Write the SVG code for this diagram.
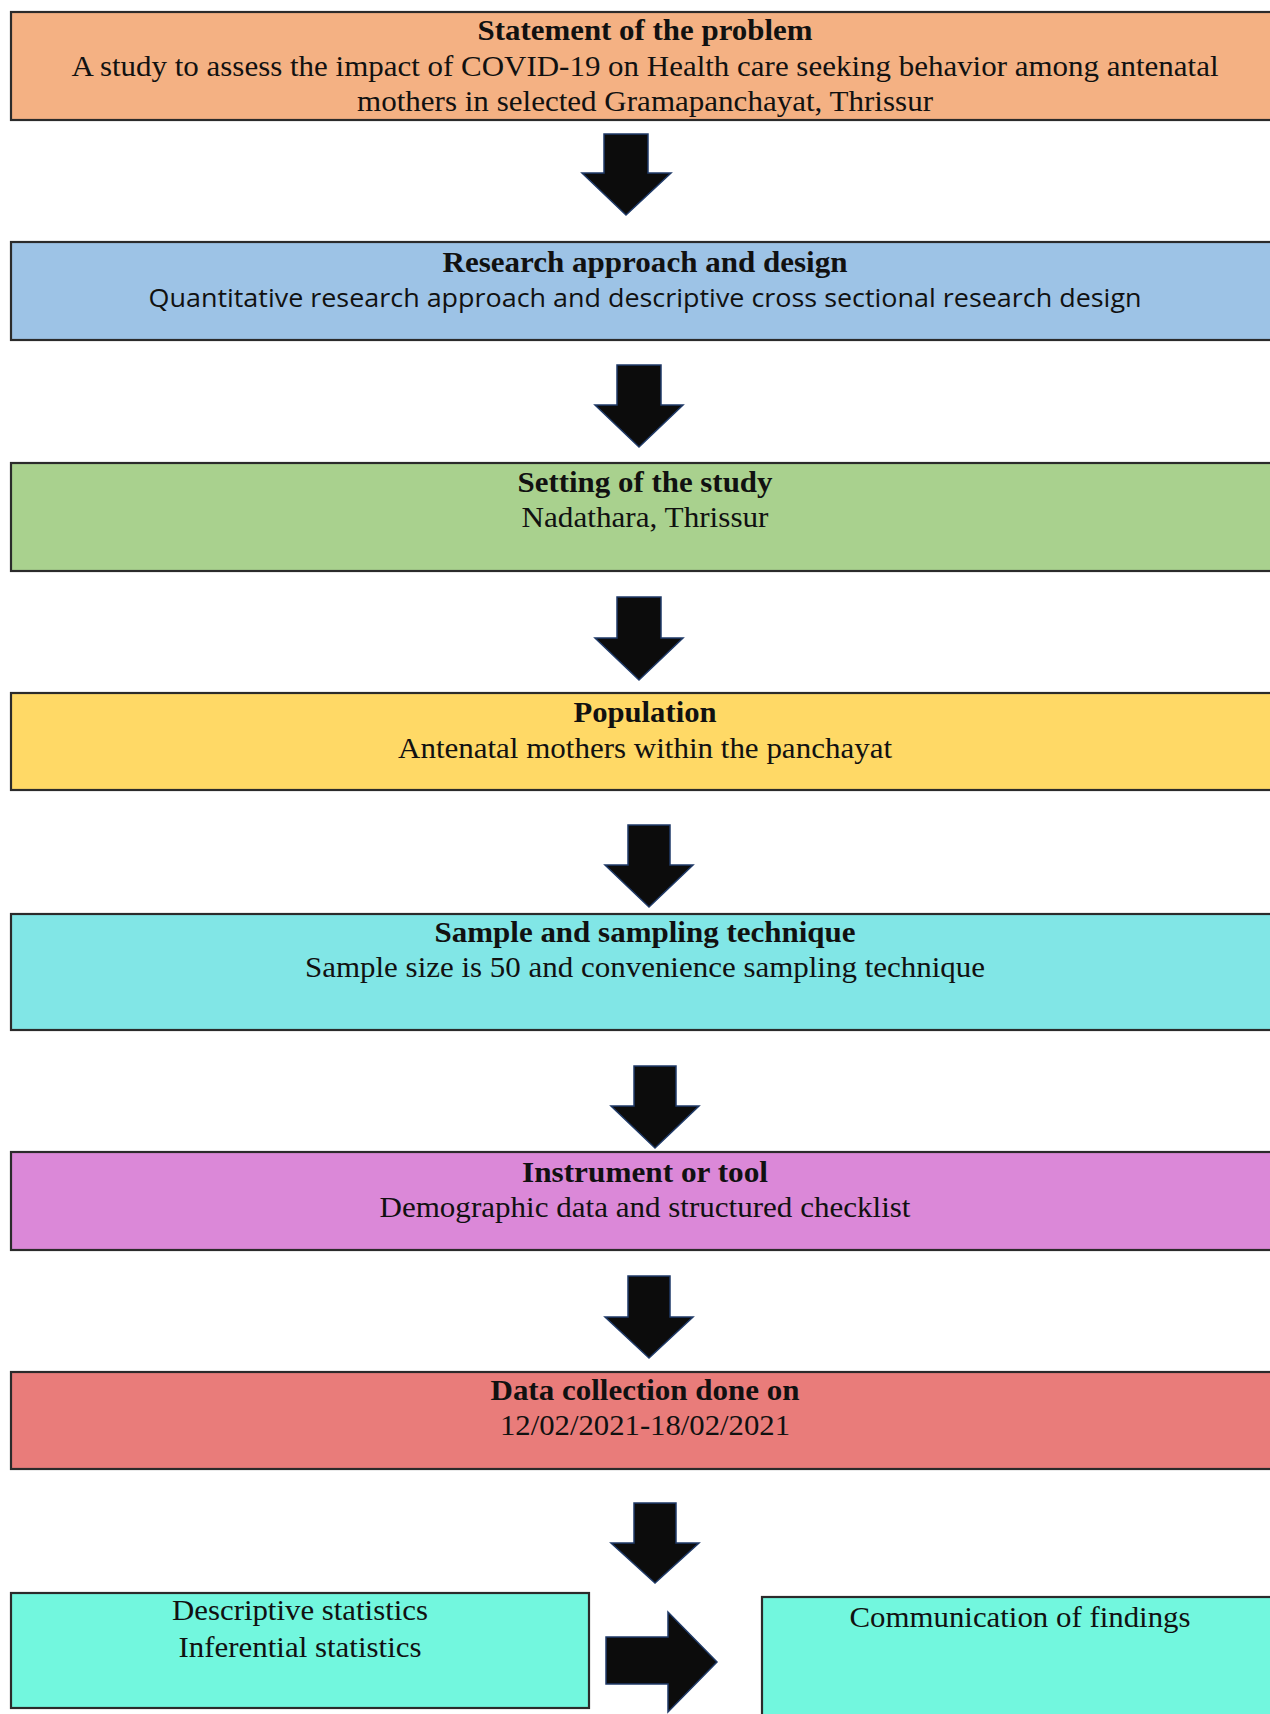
<svg xmlns="http://www.w3.org/2000/svg" width="1270" height="1714" viewBox="0 0 1270 1714">
<defs>
<style>
.box{stroke:#2b2b2b;stroke-width:2.2}
.t{font-family:"Liberation Serif","Times New Roman",serif;font-size:30px;fill:#111;text-anchor:middle}
.b{font-weight:bold}
.s{font-family:"Open Sans","Noto Sans","Liberation Sans",sans-serif;font-size:26px;fill:#111;text-anchor:middle}
.arr{fill:#0c0c0c;stroke:#1f3a68;stroke-width:1.5;stroke-linejoin:miter}
</style>
</defs>
<rect width="1270" height="1714" fill="#ffffff"/>
<g id="n1">
<rect class="box" x="11" y="12" width="1270" height="108" fill="#f4b183"/>
<text class="t b" x="645" y="40" textLength="335" lengthAdjust="spacingAndGlyphs">Statement of the problem</text>
<text class="t" x="645" y="76" textLength="1147" lengthAdjust="spacingAndGlyphs">A study to assess the impact of COVID-19 on Health care seeking behavior among antenatal</text>
<text class="t" x="645" y="111" textLength="576" lengthAdjust="spacingAndGlyphs">mothers in selected Gramapanchayat, Thrissur</text>
</g>
<g id="n2">
<rect class="box" x="11" y="242" width="1270" height="98" fill="#9dc3e6"/>
<text class="t b" x="645" y="272" textLength="405" lengthAdjust="spacingAndGlyphs">Research approach and design</text>
<text class="s" x="645" y="307" textLength="993" lengthAdjust="spacingAndGlyphs">Quantitative research approach and descriptive cross sectional research design</text>
</g>
<g id="n3">
<rect class="box" x="11" y="463" width="1270" height="108" fill="#a9d18e"/>
<text class="t b" x="645" y="492" textLength="255" lengthAdjust="spacingAndGlyphs">Setting of the study</text>
<text class="t" x="645" y="527" textLength="247" lengthAdjust="spacingAndGlyphs">Nadathara, Thrissur</text>
</g>
<g id="n4">
<rect class="box" x="11" y="693" width="1270" height="97" fill="#ffd966"/>
<text class="t b" x="645" y="722" textLength="143" lengthAdjust="spacingAndGlyphs">Population</text>
<text class="t" x="645" y="758" textLength="494" lengthAdjust="spacingAndGlyphs">Antenatal mothers within the panchayat</text>
</g>
<g id="n5">
<rect class="box" x="11" y="914" width="1270" height="116" fill="#81e6e6"/>
<text class="t b" x="645" y="942" textLength="421" lengthAdjust="spacingAndGlyphs">Sample and sampling technique</text>
<text class="t" x="645" y="977" textLength="680" lengthAdjust="spacingAndGlyphs">Sample size is 50 and convenience sampling technique</text>
</g>
<g id="n6">
<rect class="box" x="11" y="1152" width="1270" height="98" fill="#db88d8"/>
<text class="t b" x="645" y="1182" textLength="246" lengthAdjust="spacingAndGlyphs">Instrument or tool</text>
<text class="t" x="645" y="1217" textLength="531" lengthAdjust="spacingAndGlyphs">Demographic data and structured checklist</text>
</g>
<g id="n7">
<rect class="box" x="11" y="1372" width="1270" height="97" fill="#e97c7a"/>
<text class="t b" x="645" y="1400" textLength="309" lengthAdjust="spacingAndGlyphs">Data collection done on</text>
<text class="t" x="645" y="1435" textLength="290" lengthAdjust="spacingAndGlyphs">12/02/2021-18/02/2021</text>
</g>
<g id="n8">
<rect class="box" x="11" y="1593" width="578" height="115" fill="#72f7de"/>
<text class="t" x="300" y="1620" textLength="256" lengthAdjust="spacingAndGlyphs">Descriptive statistics</text>
<text class="t" x="300" y="1657" textLength="243" lengthAdjust="spacingAndGlyphs">Inferential statistics</text>
</g>
<g id="n9">
<rect class="box" x="762" y="1597" width="520" height="130" fill="#72f7de"/>
<text class="t" x="1020" y="1627" textLength="341" lengthAdjust="spacingAndGlyphs">Communication of findings</text>
</g>
<g id="connectors">
<polygon class="arr" points="604,134 648,134 648,173 671,173 626,215 582,173 604,173"/>
<polygon class="arr" points="617,365 661,365 661,405 683,405 639,447 595,405 617,405"/>
<polygon class="arr" points="617,597 661,597 661,638 683,638 639,680 595,638 617,638"/>
<polygon class="arr" points="628,825 670,825 670,865 693,865 649,907 605,865 628,865"/>
<polygon class="arr" points="634,1066 676,1066 676,1106 699,1106 655,1148 611,1106 634,1106"/>
<polygon class="arr" points="628,1276 670,1276 670,1317 693,1317 649,1358 605,1317 628,1317"/>
<polygon class="arr" points="634,1503 676,1503 676,1543 699,1543 655,1583 611,1543 634,1543"/>
<polygon class="arr" points="606,1637 668,1637 668,1612 717,1662 668,1712 668,1684 606,1684"/>
</g>
</svg>
